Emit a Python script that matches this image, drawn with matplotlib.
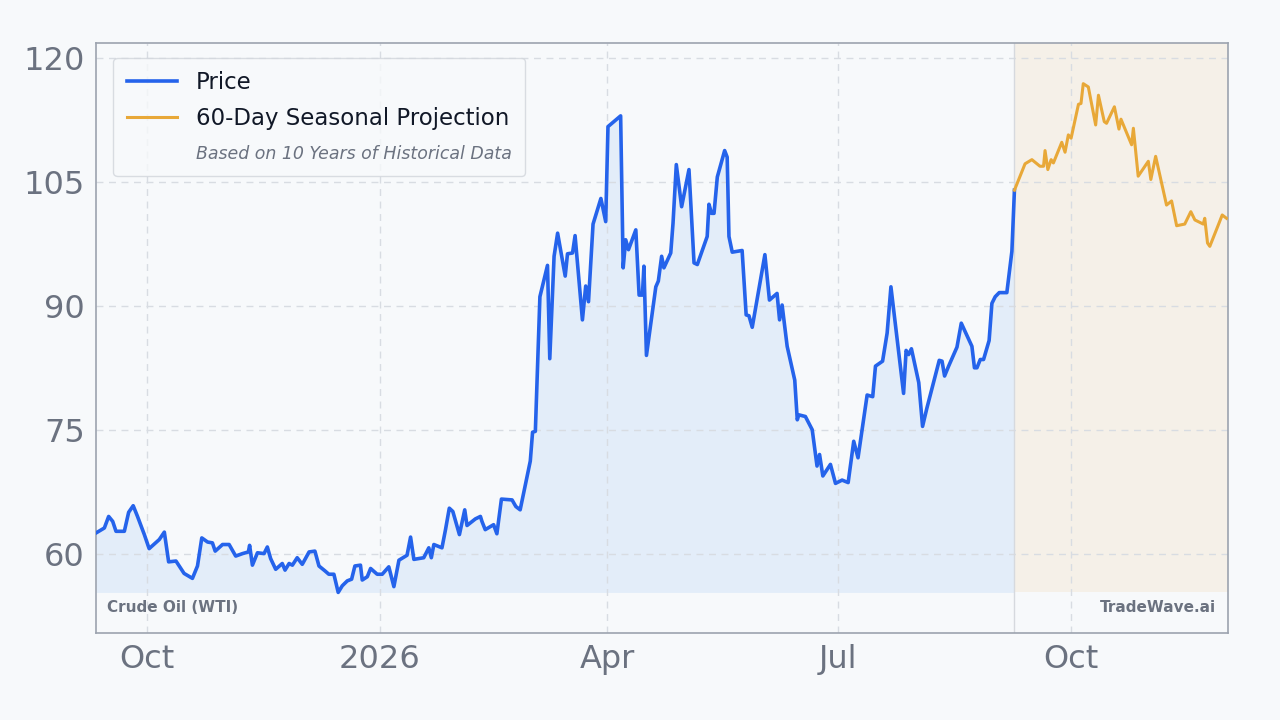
import matplotlib
matplotlib.use("Agg")
import matplotlib.pyplot as plt
import pandas as pd

# Data (days after 2025-10-01, price in USD)
origin = pd.Timestamp("2025-10-01")
price_days = [-20.1, -16.8, -15.1, -13.5, -12.2, -8.9, -7.2, -5.4, -3.7, -1.0, 0.9, 4.9, 6.9, 8.6, 11.5,
              12.8, 14.7, 18.0, 20.0, 21.7, 24.0, 25.9, 27.0, 29.9, 32.5, 35.1, 37.8, 40.1, 40.6, 41.7,
              43.7, 46.3, 47.6, 48.9, 50.9, 53.5, 54.6, 56.2, 57.5, 59.4, 61.4, 64.1, 66.4, 68.0, 70.4,
              71.9, 73.9, 75.6, 77.2, 79.2, 80.9, 82.2, 84.4, 85.1, 87.1, 88.4, 91.0, 93.0, 95.6, 97.6,
              99.6, 102.8, 104.2, 105.5, 109.4, 111.4, 112.4, 113.4, 116.6, 118.0, 119.5, 120.9, 123.5,
              125.6, 126.5, 129.8, 131.8, 132.4, 133.7, 137.0, 138.3, 140.1, 144.3, 145.8, 147.5, 151.5,
              152.4, 153.5, 155.3, 158.3, 159.2, 160.9, 162.3, 165.3, 166.2, 168.2, 169.2, 172.1, 173.4,
              174.5, 176.3, 179.4, 181.3, 182.2, 187.2, 188.2, 189.2, 190.3, 193.2, 194.5, 195.8, 196.4,
              197.4, 201.1, 202.1, 203.4, 204.3, 207.0, 207.9, 209.2, 211.3, 214.2, 216.2, 217.5, 221.4,
              222.1, 223.1, 224.1, 225.4, 228.3, 229.3, 230.0, 231.3, 235.2, 236.8, 237.9, 239.2, 244.2,
              246.0, 249.0, 250.0, 251.0, 253.0, 256.0, 257.0, 257.6, 260.2, 262.9, 264.8, 265.8, 267.1,
              270.1, 272.1, 274.7, 277.1, 279.3, 281.0, 284.6, 286.8, 287.9, 290.7, 292.5, 294.0, 299.0,
              300.0, 301.0, 302.1, 305.0, 306.5, 308.2, 313.1, 314.2, 315.2, 316.8, 320.1, 321.8, 326.0,
              327.0, 328.0, 329.3, 330.6, 332.8, 333.9, 335.2, 336.8, 339.8, 341.8, 342.8]
price_vals = [62.5, 63.1, 64.5, 63.9, 62.7, 62.7, 65.0, 65.8, 64.5, 62.3, 60.6, 61.7, 62.6, 59.0, 59.1,
              58.5, 57.6, 57.0, 58.5, 61.9, 61.4, 61.3, 60.3, 61.1, 61.1, 59.7, 60.0, 60.2, 61.0, 58.6,
              60.1, 60.0, 60.8, 59.4, 58.1, 58.8, 58.0, 58.8, 58.6, 59.5, 58.7, 60.2, 60.3, 58.5, 57.9,
              57.5, 57.5, 55.3, 56.1, 56.7, 56.9, 58.5, 58.6, 56.8, 57.2, 58.2, 57.5, 57.5, 58.4, 56.0,
              59.2, 59.8, 62.0, 59.3, 59.5, 60.7, 59.5, 61.1, 60.7, 62.9, 65.5, 65.1, 62.3,
              65.3, 63.4, 64.2, 64.5, 63.9, 62.9, 63.5, 62.4, 66.6, 66.5, 65.7, 65.3, 71.2,
              74.7, 74.8, 91.1, 94.9, 83.6, 96.0, 98.8, 93.6, 96.3, 96.4, 98.5, 88.3, 92.4,
              90.5, 99.9, 103.0, 100.2, 111.7, 113.0, 94.6, 98.0, 96.8, 99.2, 91.3, 91.3, 94.8,
              84.0, 92.3, 93.0, 96.0, 94.6, 96.4, 100.0, 107.1, 102.0, 106.5, 95.2, 95.0, 98.4,
              102.3, 101.2, 101.2, 105.6, 108.8, 108.0, 98.4, 96.5, 96.7, 88.9, 88.8, 87.4, 96.2,
              90.7, 91.5, 88.3, 90.1, 85.1, 81.0, 76.2, 76.8, 76.6, 75.0, 70.6, 72.0, 69.4,
              70.8, 68.5, 68.9, 68.6, 73.6, 71.6, 79.2, 79.0, 82.7, 83.3, 86.7, 92.3, 79.4,
              84.6, 84.1, 84.8, 80.7, 75.4, 77.6, 83.4, 83.3, 81.5, 82.7, 85.0, 87.9, 85.1,
              82.5, 82.5, 83.5, 83.5, 85.8, 90.3, 91.1, 91.6, 91.6, 96.6, 104.0]
proj_days = [342.8, 347.0, 349.7, 352.9, 354.3, 354.9, 356.0, 357.3, 358.2, 361.5, 362.8, 364.1, 365.2,
             368.1, 369.1, 370.0, 372.0, 374.9, 376.0, 378.3, 379.2, 382.3, 384.1, 384.9, 389.1, 389.8,
             391.7, 395.7, 396.7, 398.6, 402.9, 404.9, 406.9, 410.1, 412.5, 414.1, 417.4, 418.0, 419.1,
             420.0, 423.5, 424.9, 426.6]
proj_vals = [104.0, 107.2, 107.7, 106.9, 106.9, 108.8, 106.5, 107.7, 107.3, 109.8, 108.6, 110.7, 110.3,
             114.4, 114.5, 116.9, 116.5, 111.9, 115.5, 112.3, 112.1, 114.1, 111.4, 112.6, 109.5, 111.5,
             105.7, 107.5, 105.3, 108.1, 102.2, 102.7, 99.7, 99.9, 101.4, 100.4, 99.9, 100.6, 97.6,
             97.2, 99.9, 101.0, 100.6]
yticks = [60, 75, 90, 105, 120]
xtick_dates = ["2025-10-01", "2026-01-01", "2026-04-01", "2026-07-01", "2026-10-01"]
xtick_labels = ["Oct", "2026", "Apr", "Jul", "Oct"]

px = origin + pd.to_timedelta(price_days, unit="D")
jx = origin + pd.to_timedelta(proj_days, unit="D")
base = 55.3
bg = "#f7f9fb"

fig = plt.figure(figsize=(12.8, 7.2), dpi=100, facecolor=bg)
ax = fig.add_axes([0.075, 0.121, 0.884, 0.819], facecolor=bg)

ax.fill_between(px, price_vals, base, color="#e3edf9", lw=0)
ax.fill_between([jx[0], origin + pd.Timedelta(days=427)], 121.8, base, color="#f5f0e8", lw=0)
ax.axvline(jx[0], color="#d6d9de", lw=1)
ax.plot(px, price_vals, color="#2563eb", lw=2.6, label="Price", zorder=3)
ax.plot(jx, proj_vals, color="#e8a838", lw=2.2, label="60-Day Seasonal Projection", zorder=3)
ax.plot([], [], " ", label="Based on 10 Years of Historical Data")

ax.set_xlim(origin - pd.Timedelta(days=20.1), origin + pd.Timedelta(days=427))
ax.set_ylim(50.4, 121.8)
ax.set_yticks(yticks)
ax.set_xticks(pd.to_datetime(xtick_dates))
ax.set_xticklabels(xtick_labels)
ax.tick_params(labelsize=23, colors="#6b7280", length=0, pad=8)
ax.grid(True, color="#d8dce2", ls=(0, (5, 4)), lw=1)
for s in ax.spines.values():
    s.set_color("#9ca3af")
    s.set_linewidth(1.2)

leg = ax.legend(loc="upper left", fontsize=16.5, frameon=True, facecolor=bg, edgecolor="#d1d5db",
                handlelength=2.2, borderpad=0.6, labelspacing=0.55, bbox_to_anchor=(0.005, 0.995))
for t in leg.get_texts()[:2]:
    t.set_color("#111827")
sub = leg.get_texts()[2]
sub.set_fontsize(12.5)
sub.set_style("italic")
sub.set_color("#6b7280")

ax.text(0.01, 0.035, "Crude Oil (WTI)", transform=ax.transAxes, fontsize=11, fontweight="bold",
        color="#6b7280")
ax.text(0.99, 0.035, "TradeWave.ai", transform=ax.transAxes, fontsize=11, fontweight="bold",
        color="#6b7280", ha="right")

fig.savefig("out.png", dpi=100, facecolor=bg)
